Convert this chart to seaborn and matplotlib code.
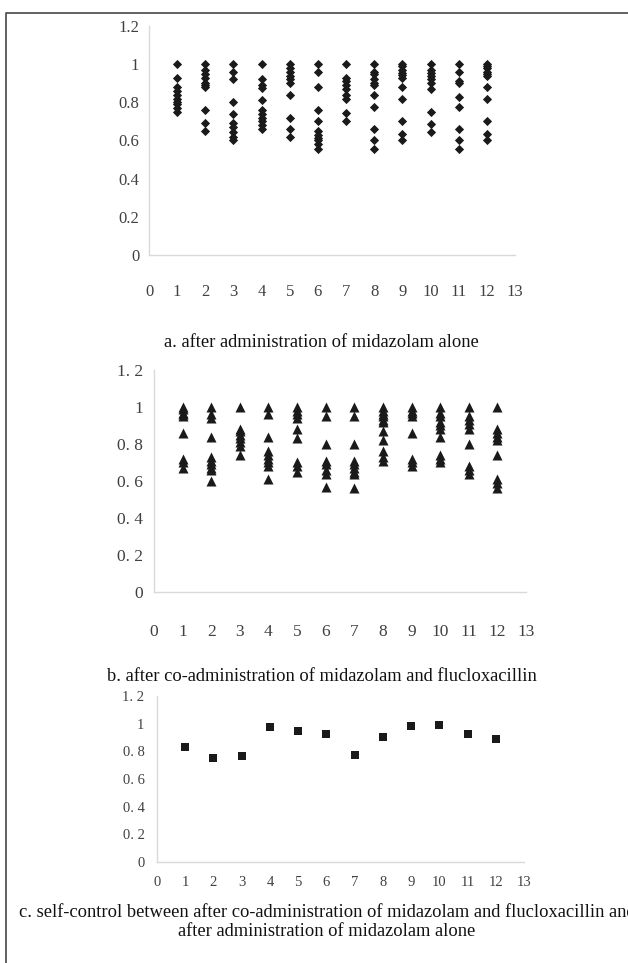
import matplotlib
matplotlib.use("Agg")
import matplotlib.pyplot as plt
import seaborn as sns
import pandas as pd
from matplotlib.lines import Line2D

sns.set_theme(style="white")
plt.rcParams['font.family'] = ['Liberation Serif', 'DejaVu Serif']

# ---------------- data ----------------
subjects = list(range(1, 13))

alone = [
    [1.0, 0.93, 0.88, 0.86, 0.84, 0.82, 0.80, 0.79, 0.77, 0.75],
    [1.0, 0.97, 0.95, 0.93, 0.90, 0.89, 0.88, 0.76, 0.69, 0.65],
    [1.0, 0.96, 0.92, 0.80, 0.74, 0.69, 0.67, 0.645, 0.62, 0.60],
    [1.0, 0.92, 0.89, 0.875, 0.81, 0.76, 0.74, 0.72, 0.70, 0.68, 0.66],
    [1.0, 0.98, 0.96, 0.94, 0.92, 0.90, 0.84, 0.72, 0.66, 0.62],
    [1.0, 0.96, 0.88, 0.76, 0.70, 0.65, 0.63, 0.615, 0.60, 0.58, 0.555],
    [1.0, 0.93, 0.91, 0.89, 0.87, 0.84, 0.82, 0.745, 0.70],
    [1.0, 0.96, 0.95, 0.92, 0.90, 0.89, 0.84, 0.775, 0.66, 0.60, 0.555],
    [1.0, 0.99, 0.97, 0.955, 0.945, 0.93, 0.88, 0.82, 0.70, 0.635, 0.60],
    [1.0, 0.97, 0.955, 0.94, 0.92, 0.90, 0.87, 0.75, 0.685, 0.645],
    [1.0, 0.96, 0.91, 0.90, 0.83, 0.775, 0.66, 0.60, 0.555],
    [1.0, 0.99, 0.98, 0.96, 0.95, 0.94, 0.88, 0.82, 0.70, 0.635, 0.60],
]

coadmin = [
    [1.0, 0.99, 0.97, 0.96, 0.95, 0.86, 0.72, 0.70, 0.67],
    [1.0, 0.96, 0.94, 0.84, 0.73, 0.71, 0.69, 0.67, 0.66, 0.60],
    [1.0, 0.88, 0.87, 0.85, 0.83, 0.81, 0.79, 0.74],
    [1.0, 0.96, 0.84, 0.76, 0.74, 0.72, 0.70, 0.68, 0.61],
    [1.0, 0.98, 0.96, 0.94, 0.88, 0.83, 0.70, 0.68, 0.65],
    [1.0, 0.95, 0.80, 0.71, 0.69, 0.66, 0.64, 0.57],
    [1.0, 0.95, 0.80, 0.71, 0.69, 0.67, 0.65, 0.64, 0.56],
    [1.0, 0.98, 0.96, 0.95, 0.93, 0.92, 0.87, 0.82, 0.76, 0.73, 0.71],
    [1.0, 0.98, 0.97, 0.95, 0.86, 0.72, 0.70, 0.68],
    [1.0, 0.97, 0.95, 0.92, 0.90, 0.88, 0.84, 0.74, 0.72, 0.70],
    [1.0, 0.95, 0.93, 0.91, 0.88, 0.80, 0.68, 0.66, 0.64],
    [1.0, 0.88, 0.86, 0.84, 0.82, 0.74, 0.61, 0.59, 0.56],
]

selfcontrol = [0.83, 0.755, 0.765, 0.975, 0.945, 0.925, 0.77, 0.905, 0.985, 0.99, 0.925, 0.89]

x_ticks = list(range(0, 14))
y_ticks = [0, 0.2, 0.4, 0.6, 0.8, 1.0, 1.2]
y_labels_a = ["0", "0.2", "0.4", "0.6", "0.8", "1", "1.2"]
y_labels_bc = ["0", "0. 2", "0. 4", "0. 6", "0. 8", "1", "1. 2"]

captions = [
    "a. after administration of midazolam alone",
    "b. after co-administration of midazolam and flucloxacillin",
    "c. self-control between after co-administration of midazolam and flucloxacillin and\nafter administration of midazolam alone",
]


def long_df(groups):
    rows = []
    for s, vals in zip(subjects, groups):
        for v in vals:
            rows.append({"subject": s, "ratio": v})
    return pd.DataFrame(rows)


df_a = long_df(alone)
df_b = long_df(coadmin)
df_c = pd.DataFrame({"subject": subjects, "ratio": selfcontrol})

W, H = 628, 963
fig = plt.figure(figsize=(W / 100, H / 100), dpi=100)


def px_axes(left, right, top, bottom):
    return fig.add_axes([left / W, 1 - bottom / H, (right - left) / W, (bottom - top) / H])


ax_a = px_axes(149, 515, 26, 255)
ax_b = px_axes(154, 526, 370, 592)
ax_c = px_axes(157, 524, 696, 862)

mark = "#1a1a1a"
sns.scatterplot(data=df_a, x="subject", y="ratio", ax=ax_a, marker="D", s=22,
                color=mark, edgecolor=mark, linewidth=0)
sns.scatterplot(data=df_b, x="subject", y="ratio", ax=ax_b, marker="^", s=52,
                color=mark, edgecolor=mark, linewidth=0)
sns.scatterplot(data=df_c, x="subject", y="ratio", ax=ax_c, marker="s", s=26,
                color=mark, edgecolor=mark, linewidth=0)

settings = [
    (ax_a, y_labels_a, 21, 7, 12),
    (ax_b, y_labels_bc, 23, 8, 12.5),
    (ax_c, y_labels_bc, 10, 9, 10.5),
]
for ax, ylabs, xpad, ypad, fs in settings:
    ax.set_xlim(0, 13)
    ax.set_ylim(0, 1.2)
    ax.set_xticks(x_ticks)
    ax.set_xticklabels([str(t) for t in x_ticks])
    ax.set_yticks(y_ticks)
    ax.set_yticklabels(ylabs)
    ax.set_xlabel("")
    ax.set_ylabel("")
    for side in ["top", "right"]:
        ax.spines[side].set_visible(False)
    for side in ["left", "bottom"]:
        ax.spines[side].set_color("#d9d9d9")
        ax.spines[side].set_linewidth(1.0)
    ax.tick_params(axis="x", length=0, pad=xpad, labelsize=fs, colors="#404040")
    ax.tick_params(axis="y", length=0, pad=ypad, labelsize=fs, colors="#404040")
    ax.patch.set_alpha(0)

cap_fs = 13.3
fig.text(321 / W, 1 - 342 / H, captions[0], ha="center", va="center", fontsize=cap_fs, color="#111111")
fig.text(322 / W, 1 - 676 / H, captions[1], ha="center", va="center", fontsize=cap_fs, color="#111111")
fig.text(327 / W, 1 - 922 / H, captions[2], ha="center", va="center", fontsize=cap_fs,
         color="#111111", linespacing=1.15)

# outer frame (top and left edges)
fig.add_artist(Line2D([6 / W, 6 / W, 1.0], [0.0, 1 - 13 / H, 1 - 13 / H],
                      transform=fig.transFigure, color="#555555", linewidth=1.3))

fig.savefig("out.png", dpi=100)
